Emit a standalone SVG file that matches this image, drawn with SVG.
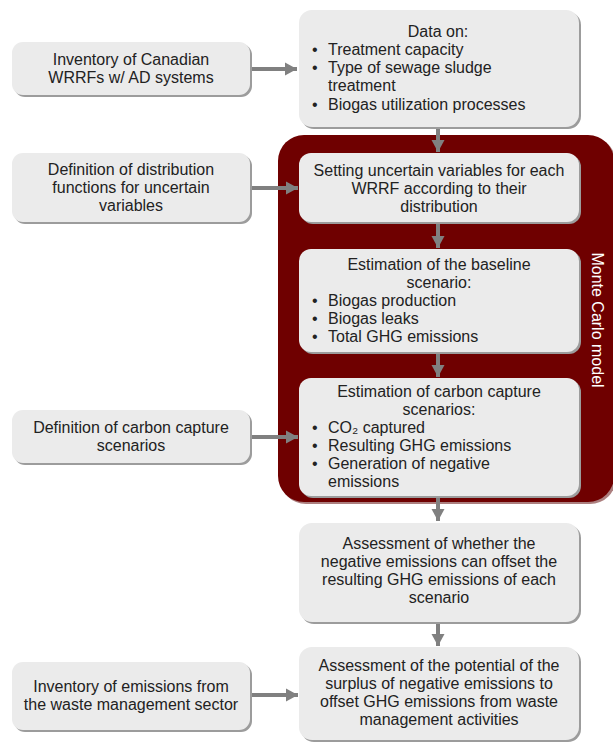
<svg xmlns="http://www.w3.org/2000/svg" width="613" height="743" viewBox="0 0 613 743">
<defs>
<style>
.sh{fill:#9c9c9c}
.bx{fill:#ebebeb}
.t{font-family:"Liberation Sans",Arial,sans-serif;font-size:16px;fill:#222}
.c{text-anchor:middle}
.ln{stroke:#808080;stroke-width:4;fill:none}
.mc{font-family:"Liberation Sans",Arial,sans-serif;font-size:16px;fill:#fff;text-anchor:middle}
</style>
<marker id="ah" markerUnits="userSpaceOnUse" markerWidth="14" markerHeight="14" refX="12" refY="7" orient="auto">
<path d="M0,0.5 L12,7 L0,13.5 Z" fill="#808080"/>
</marker>
</defs>
<rect width="613" height="743" fill="#fff"/>

<g id="monte-carlo">
<rect x="280" y="137" width="336" height="367" rx="26" fill="#5a0000" opacity="0.5"/>
<rect x="278" y="135" width="336" height="367" rx="26" fill="#6f0000"/>
<text class="mc" transform="translate(592,320) rotate(90)">Monte Carlo model</text>
</g>

<g id="connectors">
<line class="ln" x1="250" y1="69" x2="297" y2="69" marker-end="url(#ah)"/>
<line class="ln" x1="250" y1="188" x2="298" y2="188" marker-end="url(#ah)"/>
<line class="ln" x1="250" y1="437" x2="298" y2="437" marker-end="url(#ah)"/>
<line class="ln" x1="250" y1="695" x2="298" y2="695" marker-end="url(#ah)"/>
<line class="ln" x1="438" y1="127" x2="438" y2="152" marker-end="url(#ah)"/>
<line class="ln" x1="438" y1="222" x2="438" y2="248" marker-end="url(#ah)"/>
<line class="ln" x1="438" y1="352" x2="438" y2="377" marker-end="url(#ah)"/>
<line class="ln" x1="438" y1="496" x2="438" y2="521" marker-end="url(#ah)"/>
<line class="ln" x1="438" y1="622" x2="438" y2="646" marker-end="url(#ah)"/>
</g>

<g id="inventory-wrrf">
<rect class="sh" x="14" y="44" width="238" height="53" rx="11"/>
<rect class="bx" x="12" y="42" width="238" height="53" rx="11"/>
<text class="t c" x="131" y="65">Inventory of Canadian</text>
<text class="t c" x="131" y="83">WRRFs w/ AD systems</text>
</g>

<g id="data-on">
<rect class="sh" x="301" y="12" width="280" height="117" rx="13"/>
<rect class="bx" x="299" y="10" width="280" height="117" rx="13"/>
<text class="t c" x="438" y="37">Data on:</text>
<text class="t" x="312" y="55">•</text><text class="t" x="328" y="55">Treatment capacity</text>
<text class="t" x="312" y="73">•</text><text class="t" x="328" y="73">Type of sewage sludge</text>
<text class="t" x="328" y="91">treatment</text>
<text class="t" x="312" y="110">•</text><text class="t" x="328" y="110">Biogas utilization processes</text>
</g>

<g id="distribution-def">
<rect class="sh" x="14" y="155" width="238" height="69" rx="11"/>
<rect class="bx" x="12" y="153" width="238" height="69" rx="11"/>
<text class="t c" x="131" y="175">Definition of distribution</text>
<text class="t c" x="131" y="193">functions for uncertain</text>
<text class="t c" x="131" y="211">variables</text>
</g>

<g id="setting-vars">
<rect class="sh" x="301" y="155" width="280" height="69" rx="12"/>
<rect class="bx" x="299" y="153" width="280" height="69" rx="12"/>
<text class="t c" x="439" y="176">Setting uncertain variables for each</text>
<text class="t c" x="439" y="194">WRRF according to their</text>
<text class="t c" x="439" y="212">distribution</text>
</g>

<g id="baseline">
<rect class="sh" x="301" y="251" width="280" height="103" rx="12"/>
<rect class="bx" x="299" y="249" width="280" height="103" rx="12"/>
<text class="t c" x="439" y="270">Estimation of the baseline</text>
<text class="t c" x="439" y="288">scenario:</text>
<text class="t" x="312" y="306">•</text><text class="t" x="328" y="306">Biogas production</text>
<text class="t" x="312" y="324">•</text><text class="t" x="328" y="324">Biogas leaks</text>
<text class="t" x="312" y="342">•</text><text class="t" x="328" y="342">Total GHG emissions</text>
</g>

<g id="carbon-capture-def">
<rect class="sh" x="14" y="412" width="238" height="53" rx="11"/>
<rect class="bx" x="12" y="410" width="238" height="53" rx="11"/>
<text class="t c" x="131" y="433">Definition of carbon capture</text>
<text class="t c" x="131" y="451">scenarios</text>
</g>

<g id="carbon-capture-est">
<rect class="sh" x="301" y="380" width="280" height="118" rx="12"/>
<rect class="bx" x="299" y="378" width="280" height="118" rx="12"/>
<text class="t c" x="439" y="397">Estimation of carbon capture</text>
<text class="t c" x="439" y="415">scenarios:</text>
<text class="t" x="312" y="433">•</text><text class="t" x="328" y="433">CO₂ captured</text>
<text class="t" x="312" y="451">•</text><text class="t" x="328" y="451">Resulting GHG emissions</text>
<text class="t" x="312" y="469">•</text><text class="t" x="328" y="469">Generation of negative</text>
<text class="t" x="328" y="487">emissions</text>
</g>

<g id="offset-assessment">
<rect class="sh" x="301" y="525" width="280" height="99" rx="13"/>
<rect class="bx" x="299" y="523" width="280" height="99" rx="13"/>
<text class="t c" x="439" y="549">Assessment of whether the</text>
<text class="t c" x="439" y="567">negative emissions can offset the</text>
<text class="t c" x="439" y="585">resulting GHG emissions of each</text>
<text class="t c" x="439" y="603">scenario</text>
</g>

<g id="waste-inventory">
<rect class="sh" x="14" y="664" width="238" height="68" rx="11"/>
<rect class="bx" x="12" y="662" width="238" height="68" rx="11"/>
<text class="t c" x="131" y="692">Inventory of emissions from</text>
<text class="t c" x="131" y="710">the waste management sector</text>
</g>

<g id="surplus-assessment">
<rect class="sh" x="301" y="649" width="280" height="93" rx="13"/>
<rect class="bx" x="299" y="647" width="280" height="93" rx="13"/>
<text class="t c" x="439" y="671">Assessment of the potential of the</text>
<text class="t c" x="439" y="689">surplus of negative emissions to</text>
<text class="t c" x="439" y="707">offset GHG emissions from waste</text>
<text class="t c" x="439" y="725">management activities</text>
</g>
</svg>
